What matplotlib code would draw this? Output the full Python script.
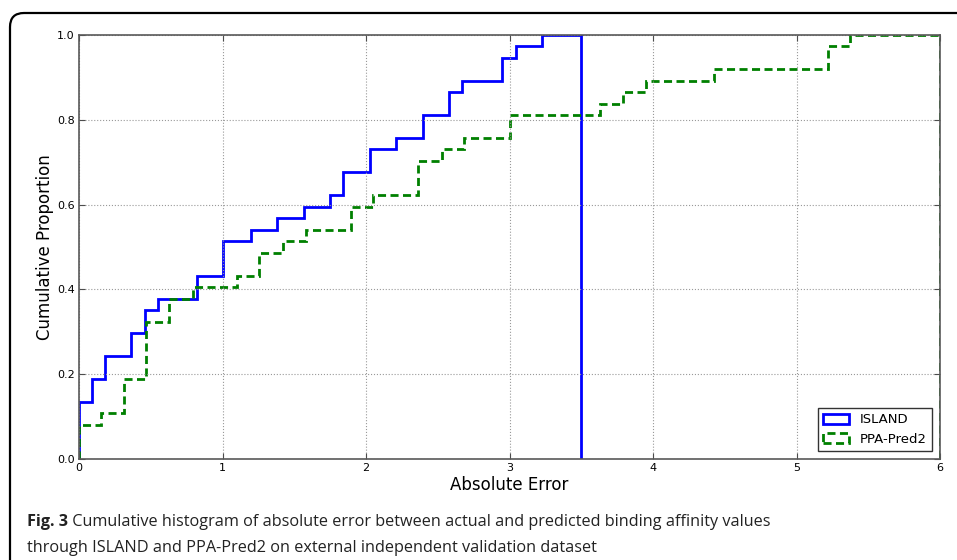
import matplotlib
matplotlib.use('Agg')
import matplotlib.pyplot as plt
from matplotlib.patches import FancyBboxPatch, Patch

# bin edges and cumulative proportions
island_edges = [0.0, 0.088, 0.179, 0.362, 0.46, 0.548, 0.825, 1.006, 1.196, 1.38, 1.566,
                1.749, 1.84, 2.028, 2.209, 2.395, 2.578, 2.671, 2.95, 3.043, 3.226, 3.5]
island_cum = [0.135, 0.189, 0.243, 0.297, 0.351, 0.378, 0.432, 0.514, 0.541, 0.568, 0.595,
              0.622, 0.676, 0.730, 0.757, 0.811, 0.865, 0.892, 0.946, 0.973, 1.0]

ppa_edges = [0.0, 0.151, 0.314, 0.467, 0.627, 0.792, 1.103, 1.257, 1.419, 1.58, 1.893, 2.051,
             2.365, 2.532, 2.685, 3.003, 3.631, 3.793, 3.951, 4.427, 5.217, 5.373, 6.0]
ppa_cum = [0.081, 0.108, 0.189, 0.324, 0.378, 0.405, 0.432, 0.486, 0.514, 0.541, 0.595, 0.622,
           0.703, 0.730, 0.757, 0.811, 0.838, 0.865, 0.892, 0.919, 0.973, 1.0]

x_ticks = [0, 1, 2, 3, 4, 5, 6]
y_ticks = [0.0, 0.2, 0.4, 0.6, 0.8, 1.0]

caption_bold = "Fig. 3"
caption_line1 = " Cumulative histogram of absolute error between actual and predicted binding affinity values"
caption_line2 = "through ISLAND and PPA-Pred2 on external independent validation dataset"

plt.rcParams['font.family'] = ['DejaVu Sans']

W, H = 957, 560
fig = plt.figure(figsize=(W / 100, H / 100), dpi=100)

# rounded frame around the whole figure
bg = fig.add_axes([0, 0, 1, 1], zorder=-1)
bg.set_xlim(0, W)
bg.set_ylim(H, 0)
bg.axis('off')
bg.add_patch(FancyBboxPatch((10, 13), 1000, 600, boxstyle='round,pad=0,rounding_size=14',
                            fc='white', ec='black', lw=1.6))

ax = fig.add_axes([79 / W, 1 - 459 / H, (940 - 79) / W, (459 - 35) / H])
dash = (0, (2.9, 1.6))
ax.stairs(island_cum, island_edges, baseline=0, color='#0000ff', lw=2.0)
ax.stairs(ppa_cum, ppa_edges, baseline=0, color='#008000', lw=2.0, linestyle=dash)

ax.set_xlim(0, 6)
ax.set_ylim(0, 1.0)
ax.set_xticks(x_ticks)
ax.set_yticks(y_ticks)
ax.set_xticklabels([str(v) for v in x_ticks])
ax.set_yticklabels(['%.1f' % v for v in y_ticks])
ax.tick_params(direction='in', top=True, right=True, labelsize=8, length=4, color='0.3',
               pad=3)
ax.grid(True, linestyle=':', color='0.6', lw=0.8)
for s in ax.spines.values():
    s.set_color('0.35')
    s.set_linewidth(1.2)

ax.set_xlabel('Absolute Error', fontsize=12, labelpad=2)
ax.set_ylabel('Cumulative Proportion', fontsize=12, labelpad=2)

handles = [Patch(fill=False, edgecolor='#0000ff', lw=2.0, label='ISLAND'),
           Patch(fill=False, edgecolor='#008000', lw=2.0, linestyle=dash, label='PPA-Pred2')]
leg = ax.legend(handles=handles, loc='lower right', fontsize=9.5, fancybox=False,
                framealpha=1, edgecolor='0.2', borderaxespad=0.6, handlelength=2.0,
                handleheight=0.8)
leg.get_frame().set_linewidth(1.0)

# caption
cap_font = 'Open Sans'
cap_size = 11.7
t1 = fig.text(27 / W, 1 - 526 / H, caption_bold, fontsize=cap_size, fontweight='bold',
              family=cap_font, color='#222222')
fig.canvas.draw()
bb = t1.get_window_extent()
fig.text(bb.x1 / W, 1 - 526 / H, caption_line1, fontsize=cap_size, family=cap_font,
         color='#222222')
fig.text(27 / W, 1 - 552 / H, caption_line2, fontsize=cap_size, family=cap_font,
         color='#222222')

fig.savefig('out.png', dpi=100)
